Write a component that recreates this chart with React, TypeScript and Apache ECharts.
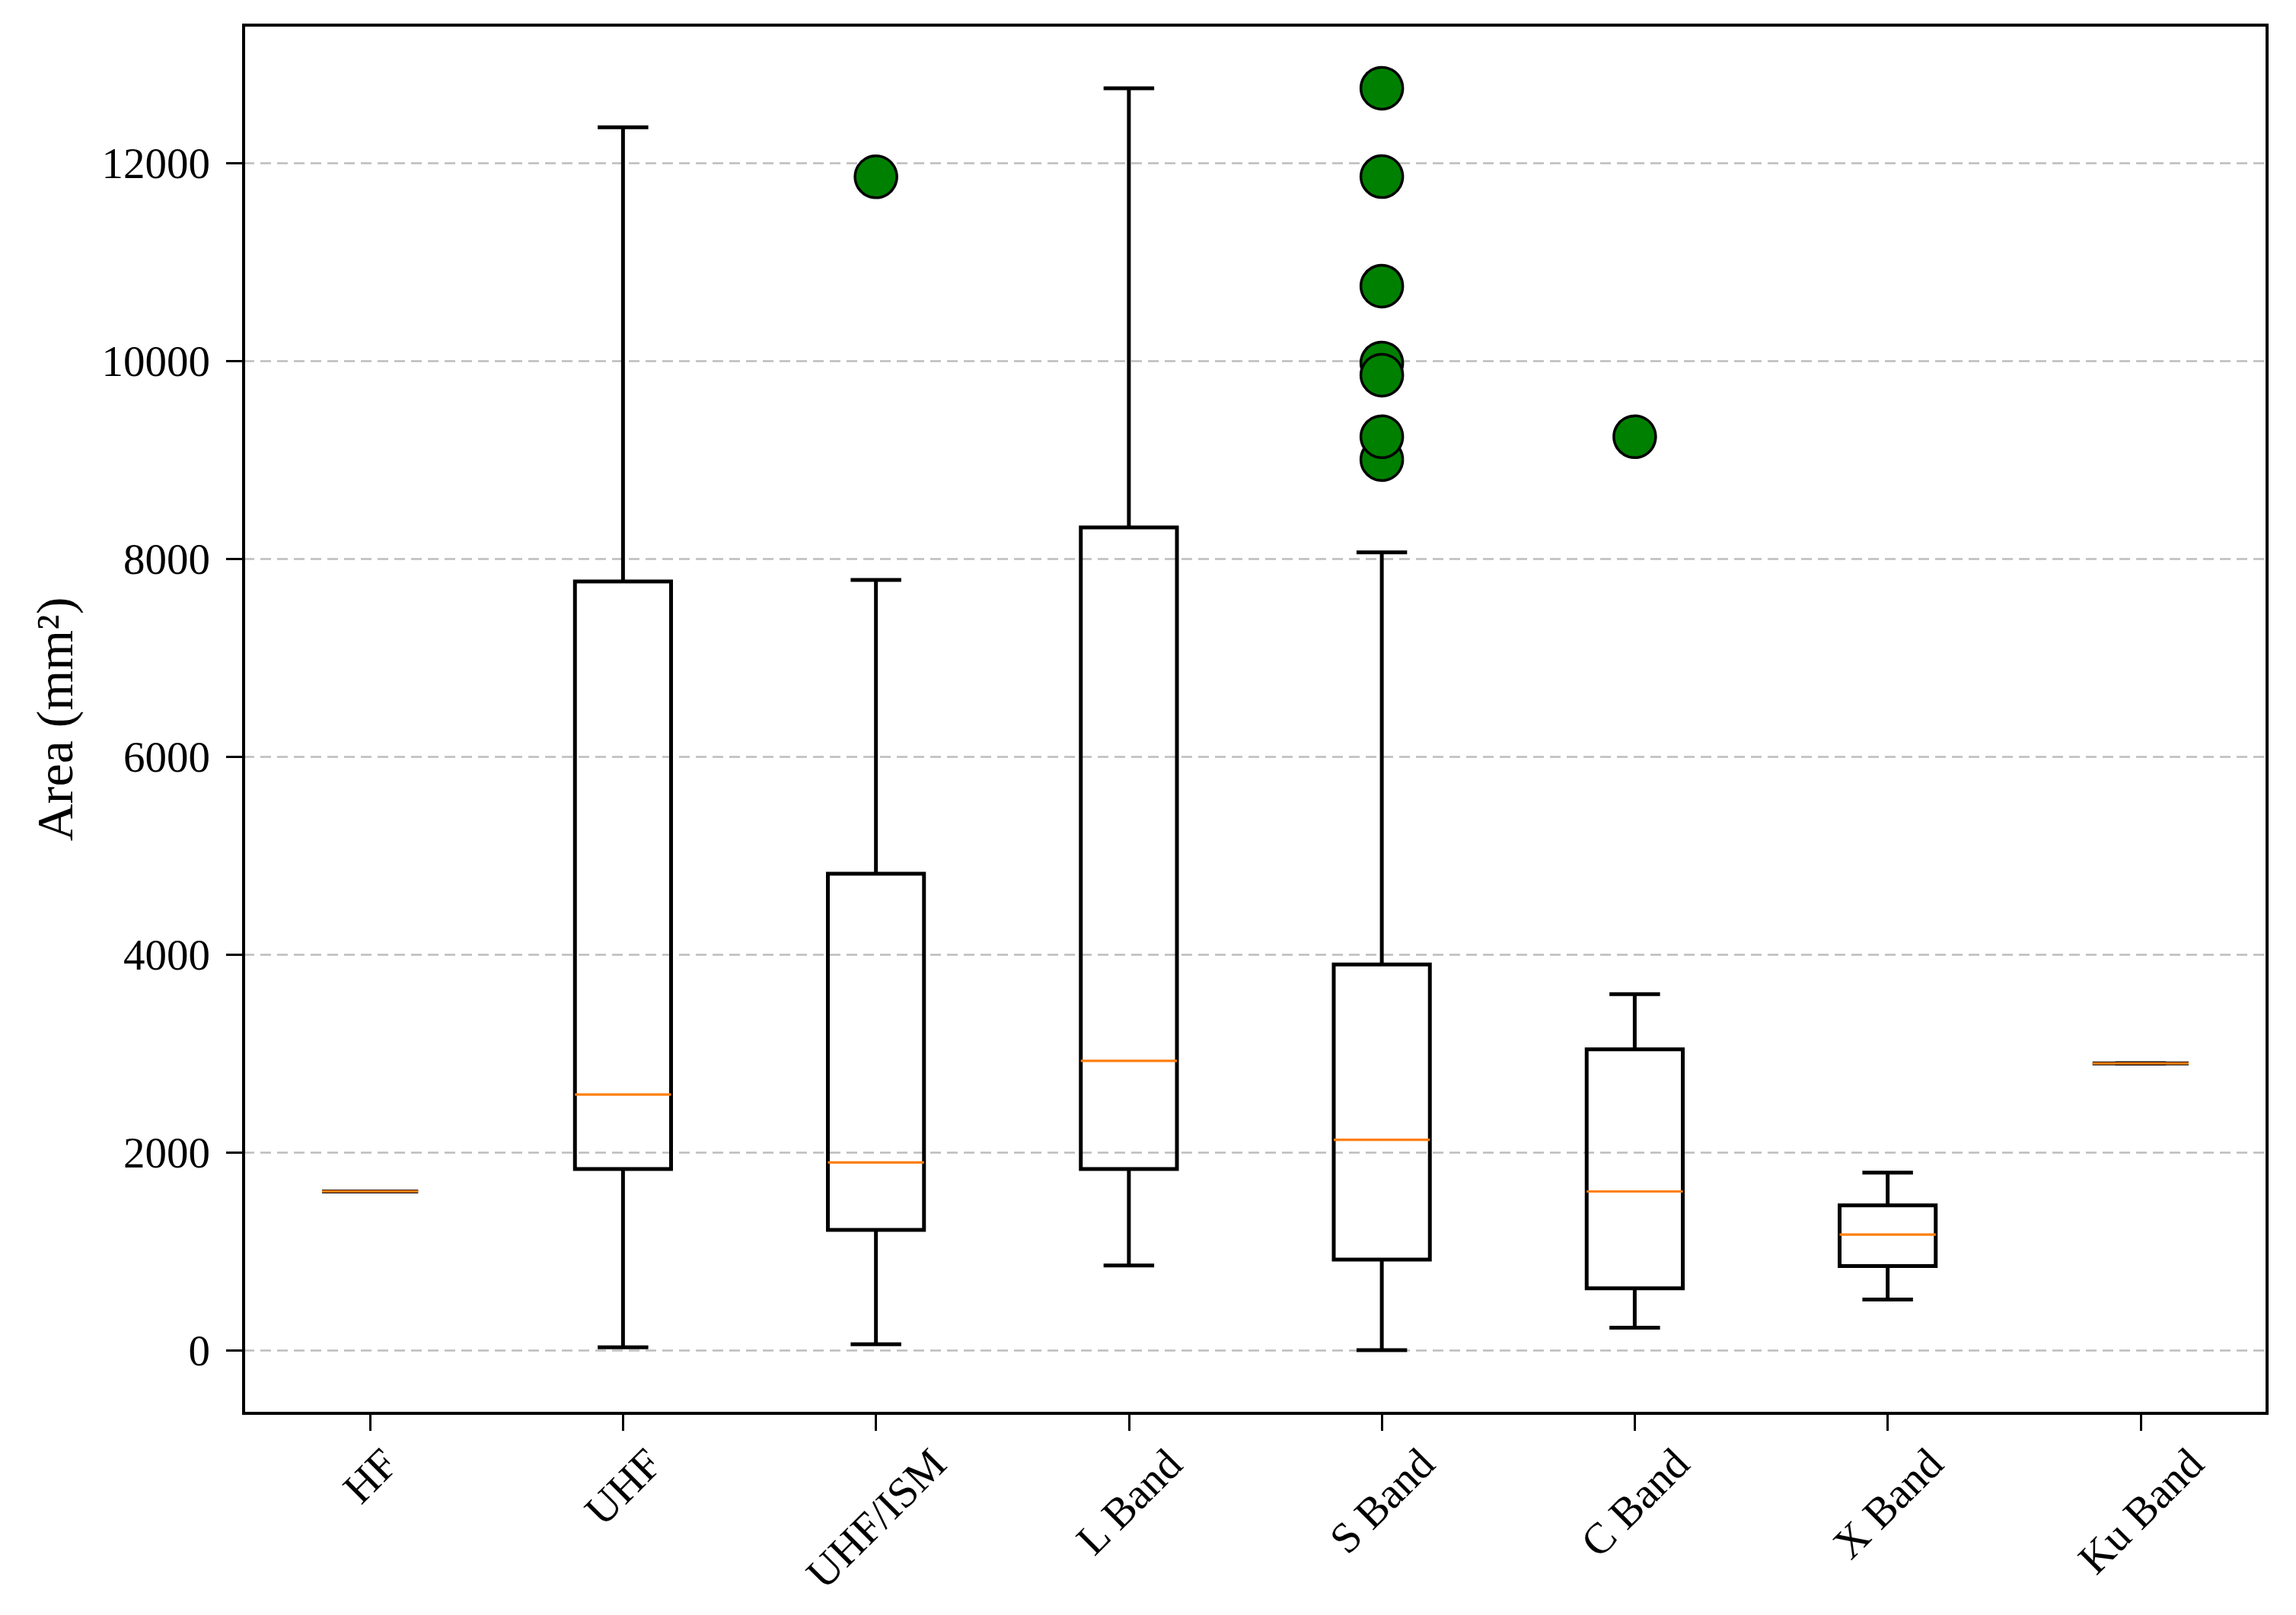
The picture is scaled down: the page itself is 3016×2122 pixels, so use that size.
import React, { useEffect, useRef } from "react";
import * as echarts from "echarts";

// ---------- data ----------
const categories = ["HF", "UHF", "UHF/ISM", "L Band", "S Band", "C Band", "X Band", "Ku Band"];
const lowerWhisker = [1606, 30, 61, 857, 0, 228, 513, 2900];
const q1 = [1606, 1832, 1217, 1832, 916, 625, 851, 2900];
const median = [1606, 2586, 1898, 2926, 2128, 1605, 1170, 2900];
const q3 = [1606, 7773, 4818, 8320, 3901, 3042, 1464, 2900];
const upperWhisker = [1606, 12365, 7788, 12760, 8068, 3600, 1796, 2900];

const outlierCategories = ["UHF/ISM", "S Band", "S Band", "S Band", "S Band", "S Band", "S Band", "S Band", "C Band"];
const outlierValues = [11864, 12760, 11866, 10759, 9982, 9859, 9005, 9236, 9236];

const yTicks = [0, 2000, 4000, 6000, 8000, 10000, 12000];
const yMin = -638;
const yMax = 13398;
const yAxisTitle = "Area (mm²)";

// ---------- style ----------
const FONT = "Liberation Serif";
const TICK_FS = 57;
const NAME_FS = 68;
const BOX_FRAC = 0.38;
const CAP_FRAC = 0.2;
const LW = 5;

function measure(text: string, fs: number) {
  const c = document.createElement("canvas").getContext("2d");
  if (!c) return text.length * fs * 0.5;
  c.font = `${fs}px "${FONT}"`;
  return c.measureText(text).width;
}

export default function App() {
  const ref = useRef<HTMLDivElement>(null);

  useEffect(() => {
    document.body.style.margin = "0";
    if (!ref.current) return;
    const chart = echarts.init(ref.current, undefined, { renderer: "svg" });

    const boxData = categories.map((_, i) => [i, lowerWhisker[i], q1[i], median[i], q3[i], upperWhisker[i]]);
    const labelData = categories.map((_, i) => [i]);
    const outlierData = outlierCategories.map((c, i) => [c, outlierValues[i]]);

    const option: any = {
      animation: false,
      backgroundColor: "#ffffff",
      grid: {
        left: 320,
        right: 38,
        top: 33,
        bottom: 265,
        show: true,
        borderColor: "#000",
        borderWidth: 4,
        backgroundColor: "transparent",
        containLabel: false,
      },
      xAxis: {
        type: "category",
        data: categories,
        boundaryGap: true,
        axisLine: { show: true, onZero: false, lineStyle: { color: "#000", width: 4 } },
        axisTick: { show: true, alignWithLabel: true, length: 23, lineStyle: { color: "#000", width: 3 } },
        axisLabel: { show: false },
        splitLine: { show: false },
      },
      yAxis: {
        type: "value",
        min: yMin,
        max: yMax,
        name: yAxisTitle,
        nameLocation: "middle",
        nameGap: 214,
        nameTextStyle: { fontFamily: FONT, fontSize: NAME_FS, color: "#000" },
        axisLine: { show: true, lineStyle: { color: "#000", width: 4 } },
        axisTick: { show: true, length: 23, lineStyle: { color: "#000", width: 3 }, customValues: yTicks },
        axisLabel: {
          customValues: yTicks,
          fontFamily: FONT,
          fontSize: TICK_FS,
          color: "#000",
          margin: 44,
          formatter: (v: number) => String(v),
        },
        splitLine: {
          show: true,
          lineStyle: { color: "#bdbdbd", width: 2.5, type: [14, 8] },
        },
      },
      series: [
        {
          type: "custom",
          coordinateSystem: "cartesian2d",
          clip: false,
          z: 3,
          encode: { x: 0, y: [1, 2, 3, 4, 5] },
          data: boxData,
          renderItem: (params: any, api: any) => {
            const i = api.value(0);
            const lo = api.coord([i, api.value(1)]);
            const b1 = api.coord([i, api.value(2)]);
            const md = api.coord([i, api.value(3)]);
            const b3 = api.coord([i, api.value(4)]);
            const hi = api.coord([i, api.value(5)]);
            const band = api.size([1, 0])[0];
            const hb = (band * BOX_FRAC) / 2;
            const hc = (band * CAP_FRAC) / 2;
            const x = lo[0];
            const ls = { stroke: "#000", lineWidth: LW, fill: null };
            return {
              type: "group",
              children: [
                { type: "line", shape: { x1: x, y1: b1[1], x2: x, y2: lo[1] }, style: ls },
                { type: "line", shape: { x1: x, y1: b3[1], x2: x, y2: hi[1] }, style: ls },
                { type: "line", shape: { x1: x - hc, y1: lo[1], x2: x + hc, y2: lo[1] }, style: ls },
                { type: "line", shape: { x1: x - hc, y1: hi[1], x2: x + hc, y2: hi[1] }, style: ls },
                {
                  type: "rect",
                  shape: { x: x - hb, y: b3[1], width: hb * 2, height: b1[1] - b3[1] },
                  style: { stroke: "#000", lineWidth: LW, fill: "none" },
                },
                {
                  type: "line",
                  shape: { x1: x - hb, y1: md[1], x2: x + hb, y2: md[1] },
                  style: { stroke: "#ff7f0e", lineWidth: 3.2, fill: null },
                },
              ],
            };
          },
        },
        {
          type: "scatter",
          z: 4,
          data: outlierData,
          symbol: "circle",
          symbolSize: 55,
          itemStyle: { color: "#008000", borderColor: "#000", borderWidth: 3.5, opacity: 1 },
          emphasis: { disabled: true },
        },
        {
          type: "custom",
          coordinateSystem: "cartesian2d",
          clip: false,
          silent: true,
          encode: { x: 0 },
          data: labelData,
          renderItem: (params: any, api: any) => {
            const i = api.value(0);
            const p = api.coord([i, 0]);
            const cs = params.coordSys;
            const bottom = cs.y + cs.height;
            const text = categories[i];
            const w = measure(text, TICK_FS);
            const cy = bottom + 42 + (w + 0.7 * TICK_FS) * 0.3536;
            return {
              type: "text",
              x: p[0],
              y: cy,
              rotation: Math.PI / 4,
              style: {
                text,
                fontFamily: FONT,
                fontSize: TICK_FS,
                fill: "#000",
                align: "center",
                verticalAlign: "middle",
              },
            };
          },
        },
      ],
    };

    chart.setOption(option);
    return () => chart.dispose();
  }, []);

  return <div ref={ref} style={{ width: 3016, height: 2122 }} />;
}
